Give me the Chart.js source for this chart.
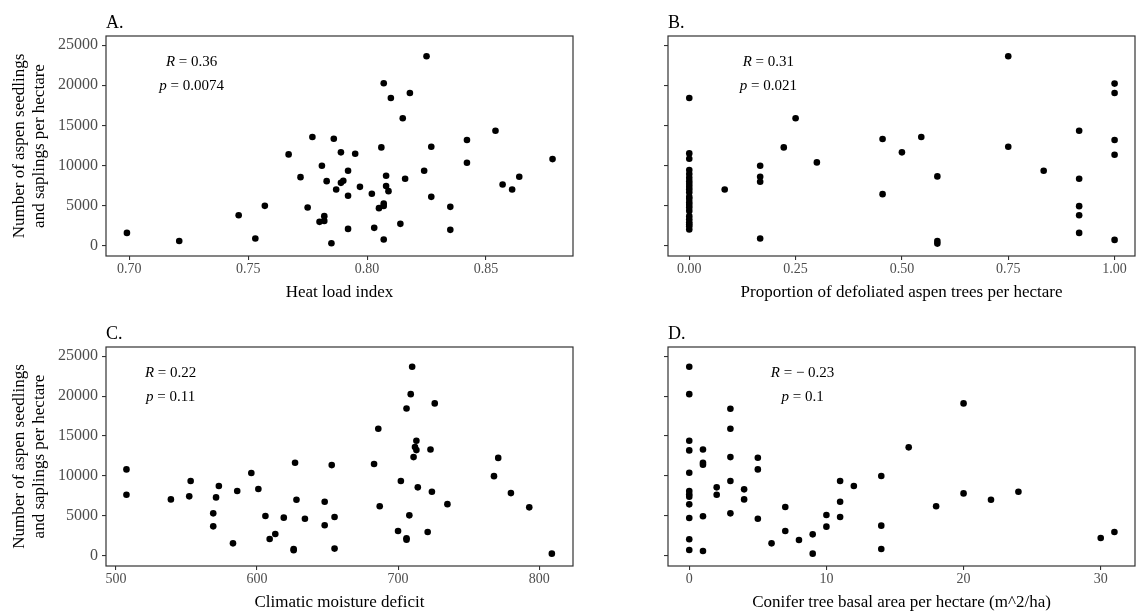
<!DOCTYPE html>
<html>
<head>
<meta charset="utf-8">
<script src="https://cdn.jsdelivr.net/npm/chart.js@4"></script>
<style>
  html, body { margin: 0; padding: 0; background: #fff; }
  body { width: 1139px; height: 613px; position: relative; overflow: hidden; }
  canvas { position: absolute; }
</style>
</head>
<body>
<canvas id="panel-a" width="580" height="303" style="left:0;top:0"></canvas>
<canvas id="panel-b" width="559" height="303" style="left:580px;top:0"></canvas>
<canvas id="panel-c" width="580" height="303" style="left:0;top:310px"></canvas>
<canvas id="panel-d" width="559" height="303" style="left:580px;top:310px"></canvas>
<script>
(function () {
    "use strict";

    // shared y axis
    const yTicks = [0, 5000, 10000, 15000, 20000, 25000];
    const yTickLabels = ["0", "5000", "10000", "15000", "20000", "25000"];
    const yTitle = ["Number of aspen seedlings", "and saplings per hectare"];

    // A. heat load index
    const heatLoad = [0.699, 0.721, 0.746, 0.753, 0.757, 0.767, 0.772, 0.775, 0.777, 0.781, 0.780, 0.782, 0.782, 0.783, 0.785, 0.786, 0.787, 0.789, 0.789, 0.790, 0.792, 0.792, 0.792, 0.795, 0.797, 0.802, 0.803, 0.805, 0.806, 0.807, 0.807, 0.807, 0.807, 0.808, 0.808, 0.809, 0.810, 0.814, 0.815, 0.816, 0.818, 0.824, 0.825, 0.827, 0.827, 0.835, 0.835, 0.842, 0.842, 0.854, 0.857, 0.861, 0.864, 0.878];
    const heatLoadSeedlings = [1580, 580, 3790, 880, 4960, 11380, 8540, 4750, 13540, 9960, 2960, 3670, 3080, 8040, 290, 13330, 7000, 7830, 11630, 8080, 2080, 9330, 6210, 11460, 7330, 6460, 2210, 4670, 12250, 20250, 5250, 750, 4950, 7420, 8710, 6790, 18420, 2710, 15880, 8330, 19040, 9330, 23630, 6080, 12330, 4830, 1960, 13170, 10330, 14330, 7630, 7000, 8580, 10790];
    const heatTicks = [0.70, 0.75, 0.80, 0.85];
    const heatTickLabels = ["0.70", "0.75", "0.80", "0.85"];

    // B. defoliation
    const defoliation = [0, 0, 0, 0, 0, 0, 0, 0, 0, 0, 0, 0, 0, 0, 0, 0, 0, 0, 0, 0, 0, 0, 0, 0.0833, 0.1667, 0.1667, 0.1667, 0.1667, 0.2222, 0.25, 0.30, 0.4545, 0.4545, 0.50, 0.5455, 0.5833, 0.5833, 0.5833, 0.75, 0.75, 0.8333, 0.9167, 0.9167, 0.9167, 0.9167, 0.9167, 1, 1, 1, 1, 1];
    const defoliationSeedlings = [18420, 11500, 10830, 9420, 8920, 8460, 8040, 7670, 7330, 7000, 6630, 6080, 5830, 5420, 5080, 4750, 4330, 3670, 3290, 2920, 2670, 2420, 2000, 7000, 9960, 8580, 7960, 880, 12250, 15880, 10380, 13290, 6420, 11630, 13540, 8630, 580, 250, 23630, 12330, 9330, 14330, 8330, 4920, 3790, 1580, 20210, 19040, 13170, 11330, 710];
    const defolTicks = [0, 0.25, 0.5, 0.75, 1];
    const defolTickLabels = ["0.00", "0.25", "0.50", "0.75", "1.00"];

    // C. climatic moisture deficit
    const moistureDeficit = [507.5, 507.5, 539, 552, 553, 569, 569, 571, 573, 583, 586, 596, 601, 606, 609, 613, 619, 626, 626, 627, 628, 634, 648, 648, 653, 655, 655, 683, 686, 687, 700, 702, 706, 706, 706, 708, 709, 710, 711, 712, 713, 713, 714, 721, 723, 724, 726, 735, 768, 771, 780, 793, 809];
    const moistureSeedlings = [10810, 7640, 7050, 7430, 9350, 5300, 3670, 7300, 8720, 1540, 8100, 10350, 8350, 4970, 2090, 2710, 4760, 670, 830, 11650, 7010, 4630, 6760, 3800, 11350, 4840, 880, 11480, 15900, 6180, 3090, 9350, 2170, 2000, 18450, 5050, 20240, 23670, 12350, 13610, 14400, 13230, 8560, 2960, 13310, 8010, 19080, 6450, 9960, 12250, 7840, 6050, 250];
    const moistureTicks = [500, 600, 700, 800];
    const moistureTickLabels = ["500", "600", "700", "800"];

    // D. conifer basal area
    const coniferBasal = [0, 0, 0, 0, 0, 0, 0, 0, 0, 0, 0, 0, 1, 1, 1, 1, 1, 2, 2, 3, 3, 3, 3, 3, 4, 4, 5, 5, 5, 6, 7, 7, 8, 9, 9, 10, 10, 11, 11, 11, 12, 14, 14, 14, 16, 18, 20, 20, 22, 24, 30, 31];
    const coniferSeedlings = [23670, 20240, 14400, 13190, 10390, 8100, 7680, 7390, 6430, 4720, 2050, 710, 13310, 11650, 11400, 4930, 580, 8560, 7640, 18410, 15900, 12350, 9350, 5300, 8310, 7050, 12270, 10810, 4630, 1540, 6090, 3090, 1960, 2670, 250, 5090, 3630, 9350, 6760, 4840, 8720, 9980, 3760, 840, 13570, 6180, 19080, 7800, 7010, 8010, 2210, 2960];
    const coniferTicks = [0, 10, 20, 30];
    const coniferTickLabels = ["0", "10", "20", "30"];

    const SERIF = '"Liberation Serif", "DejaVu Serif", "Times New Roman", serif';

    const panelDecor = {
        id: "panelDecor",
        afterDraw(chart, args, opts) {
            const { ctx, chartArea: a, scales } = chart;
            ctx.save();
            ctx.strokeStyle = "#333333";
            ctx.lineWidth = 1.2;
            ctx.strokeRect(a.left, a.top, a.right - a.left, a.bottom - a.top);
            ctx.fillStyle = "#000";
            ctx.textBaseline = "alphabetic";
            ctx.textAlign = "left";
            ctx.font = "18px " + SERIF;
            ctx.fillText(opts.letter, a.left, a.top - 8);
            opts.notes.forEach((n) => {
                const x = scales.x.getPixelForValue(n.x);
                const y = scales.y.getPixelForValue(n.y);
                ctx.font = "italic 15px " + SERIF;
                const w1 = ctx.measureText(n.sym).width;
                ctx.font = "15px " + SERIF;
                const w2 = ctx.measureText(n.rest).width;
                const x0 = x - (w1 + w2) / 2;
                ctx.font = "italic 15px " + SERIF;
                ctx.fillText(n.sym, x0, y);
                ctx.font = "15px " + SERIF;
                ctx.fillText(n.rest, x0 + w1, y);
            });
            ctx.restore();
        },
    };

    function panel(id, xs, ys, o) {
        new Chart(document.getElementById(id), {
            type: "scatter",
            data: { datasets: [{ data: xs.map((x, i) => ({ x, y: ys[i] })), backgroundColor: "#000", borderColor: "#000", pointRadius: 3.3, pointHoverRadius: 3.3, borderWidth: 0 }] },
            options: {
                responsive: false,
                animation: false,
                events: [],
                layout: { padding: { top: o.top, right: o.right, left: 0, bottom: 0 } },
                plugins: { legend: { display: false }, tooltip: { enabled: false }, panelDecor: { letter: o.letter, notes: o.notes } },
                scales: {
                    x: {
                        type: "linear", min: o.xMin, max: o.xMax,
                        afterBuildTicks: (s) => { s.ticks = o.xTicks.map((v) => ({ value: v })); },
                        afterFit: (s) => { s.height = 47; },
                        ticks: { callback: (v, i) => o.xLabels[i], color: "#4d4d4d", font: { family: SERIF, size: 14 }, padding: 1, maxRotation: 0, autoSkip: false },
                        grid: { drawOnChartArea: false, drawTicks: true, tickLength: 4, color: "#333333", lineWidth: 1.1 },
                        border: { display: false },
                        title: { display: true, text: o.xTitle, color: "#000", font: { family: SERIF, size: 17 }, padding: { top: 0, bottom: 0 } },
                    },
                    y: {
                        type: "linear", min: -1300, max: 26150,
                        afterBuildTicks: (s) => { s.ticks = yTicks.map((v) => ({ value: v })); },
                        afterFit: (s) => { s.width = o.yWidth; },
                        ticks: { display: o.yLabels, callback: (v, i) => yTickLabels[i], color: "#4d4d4d", font: { family: SERIF, size: 16 }, padding: 4, autoSkip: false },
                        grid: { drawOnChartArea: false, drawTicks: true, tickLength: 4, color: "#333333", lineWidth: 1.1 },
                        border: { display: false },
                        title: { display: o.yLabels, text: yTitle, color: "#000", font: { family: SERIF, size: 17 }, padding: { top: 9, bottom: 0 } },
                    },
                },
            },
            plugins: [panelDecor],
        });
    }

    panel("panel-a", heatLoad, heatLoadSeedlings, {
        letter: "A.", top: 36, right: 7, yWidth: 106, yLabels: true,
        xMin: 0.6902, xMax: 0.8866, xTicks: heatTicks, xLabels: heatTickLabels, xTitle: "Heat load index",
        notes: [{ x: 0.7262, y: 22450, sym: "R", rest: " = 0.36" }, { x: 0.7262, y: 19400, sym: "p", rest: " = 0.0074" }],
    });
    panel("panel-b", defoliation, defoliationSeedlings, {
        letter: "B.", top: 36, right: 4, yWidth: 88, yLabels: false,
        xMin: -0.05, xMax: 1.048, xTicks: defolTicks, xLabels: defolTickLabels, xTitle: "Proportion of defoliated aspen trees per hectare",
        notes: [{ x: 0.186, y: 22450, sym: "R", rest: " = 0.31" }, { x: 0.186, y: 19400, sym: "p", rest: " = 0.021" }],
    });
    panel("panel-c", moistureDeficit, moistureSeedlings, {
        letter: "C.", top: 37, right: 7, yWidth: 106, yLabels: true,
        xMin: 493, xMax: 824, xTicks: moistureTicks, xLabels: moistureTickLabels, xTitle: "Climatic moisture deficit",
        notes: [{ x: 538.8, y: 22450, sym: "R", rest: " = 0.22" }, { x: 538.8, y: 19400, sym: "p", rest: " = 0.11" }],
    });
    panel("panel-d", coniferBasal, coniferSeedlings, {
        letter: "D.", top: 37, right: 4, yWidth: 88, yLabels: false,
        xMin: -1.55, xMax: 32.5, xTicks: coniferTicks, xLabels: coniferTickLabels, xTitle: "Conifer tree basal area per hectare (m^2/ha)",
        notes: [{ x: 8.26, y: 22450, sym: "R", rest: " = \u2212 0.23" }, { x: 8.26, y: 19400, sym: "p", rest: " = 0.1" }],
    });
})();
</script>
</body>
</html>
